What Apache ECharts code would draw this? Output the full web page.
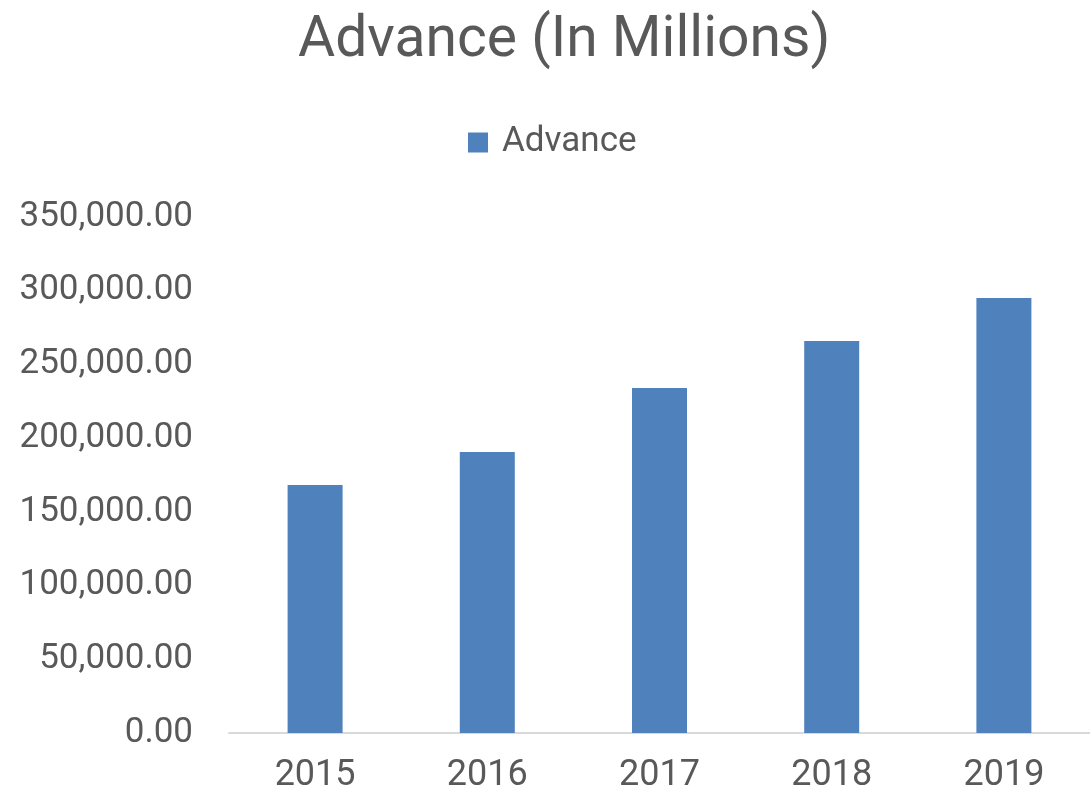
<!DOCTYPE html>
<html><head><meta charset="utf-8">
<script src="https://cdn.jsdelivr.net/npm/echarts@6/dist/echarts.min.js"></script>
<style>html,body{margin:0;padding:0;background:#fff}#c{width:1090px;height:796px}</style>
</head><body><div id="c"></div>
<script>
var categories = ['2015','2016','2017','2018','2019'];
var advance = [168200, 190600, 234000, 265900, 295000];
var chart = echarts.init(document.getElementById('c'));
chart.setOption({
  animation: false,
  title: {text: 'Advance (In Millions)', left: 293, top: 8,
    textStyle: {fontFamily: 'Roboto', fontSize: 57, fontWeight: 'normal', color: '#595959'}},
  legend: {data: ['Advance'], top: 120, left: 463, itemWidth: 20, itemHeight: 20, itemGap: 10,
    icon: 'rect',
    textStyle: {fontFamily: 'Roboto', fontSize: 35, color: '#595959', padding: [0, 0, 0, 9]}},
  grid: {left: 229, top: 217, height: 516, width: 865, containLabel: false},
  xAxis: {type: 'category', data: categories,
    axisLine: {lineStyle: {color: '#d9d9d9', width: 2}}, axisTick: {show: false},
    axisLabel: {fontFamily: 'Roboto', fontSize: 36, color: '#595959', margin: 25}},
  yAxis: {type: 'value', min: 0, max: 350000, interval: 50000,
    splitLine: {show: false}, axisLine: {show: false}, axisTick: {show: false},
    axisLabel: {fontFamily: 'Roboto', fontSize: 35, color: '#595959', margin: 36,
      formatter: function(v){return v.toLocaleString('en-US',{minimumFractionDigits:2, maximumFractionDigits:2});}}},
  series: [{name: 'Advance', type: 'bar', data: advance, barWidth: 55,
    itemStyle: {color: '#4f81bd'}}]
});
</script></body></html>
